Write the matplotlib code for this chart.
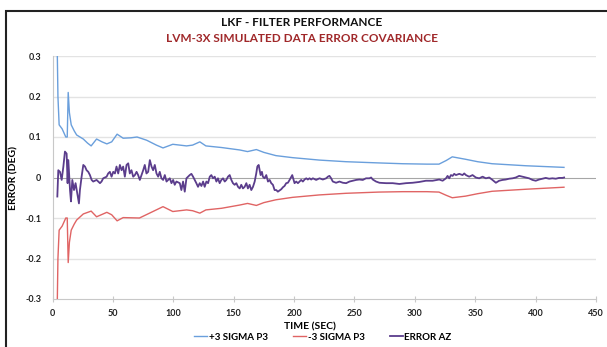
import matplotlib
matplotlib.use("Agg")
import matplotlib.pyplot as plt
from matplotlib.patches import Rectangle

plt.rcParams['font.family'] = ['Lato', 'DejaVu Sans']

# +3 sigma envelope
t_plus = [4.0, 4.5, 5.5, 8, 11, 12.2, 13, 14, 15.5, 18, 20, 25.5, 29, 32, 36.5, 41, 45, 49,
          53.5, 58.5, 65, 70, 78, 86, 91.5, 99.6, 111, 116, 122, 127, 140, 155, 161.5, 168.8,
          175, 185, 198.8, 221, 243, 270, 290, 310, 320, 326, 331, 342, 352, 364, 392, 423.5]
sigma_plus = [0.30, 0.20, 0.13, 0.12, 0.10, 0.10, 0.21, 0.16, 0.13, 0.115, 0.105, 0.095, 0.085,
              0.078, 0.095, 0.088, 0.083, 0.088, 0.107, 0.097, 0.098, 0.10, 0.092, 0.08, 0.073,
              0.082, 0.078, 0.08, 0.088, 0.078, 0.074, 0.068, 0.064, 0.069, 0.062, 0.054, 0.049,
              0.043, 0.039, 0.036, 0.034, 0.033, 0.033, 0.042, 0.051, 0.045, 0.039, 0.034, 0.029,
              0.025]

# -3 sigma envelope
t_minus = [4.0, 4.5, 5.5, 8, 11, 12.2, 13, 14, 15.5, 18, 20, 25.5, 32, 36.5, 45, 49, 53.5,
           58.5, 72, 91.5, 99.6, 111, 116, 122, 127, 140, 155, 161.5, 168.8, 175, 185, 198.8,
           221, 243, 270, 290, 310, 320, 326, 331, 342, 352, 364, 392, 423.5]
sigma_minus = [-0.30, -0.20, -0.13, -0.12, -0.10, -0.10, -0.21, -0.16, -0.13, -0.115, -0.105,
               -0.09, -0.083, -0.097, -0.086, -0.092, -0.107, -0.099, -0.10, -0.072, -0.084,
               -0.08, -0.082, -0.088, -0.08, -0.076, -0.068, -0.064, -0.069, -0.062, -0.055,
               -0.049, -0.043, -0.039, -0.036, -0.035, -0.035, -0.036, -0.044, -0.050, -0.046,
               -0.040, -0.034, -0.029, -0.024]

# azimuth error
t_err = [4.0, 4.8, 6.2, 7.6, 9.0, 10.3, 11.7, 12.5, 13.1, 14.5, 15.3, 16.4, 17.8, 19.1, 20.5,
         21.9, 22.7, 24.1, 25.5, 26.9, 28.2, 29.6, 31.0, 32.4, 33.7, 36.5, 39.3, 40.6, 42.0,
         44.8, 46.1, 47.5, 48.9, 50.3, 51.7, 53.0, 54.4, 55.8, 57.2, 58.5, 59.9, 61.3, 62.7,
         64.0, 65.4, 66.8, 68.2, 69.6, 70.9, 72.3, 73.7, 75.1, 76.4, 77.8, 79.2, 80.6, 82.0,
         83.3, 84.7, 86.1, 87.5, 88.8, 90.2, 91.6, 93.0, 94.4, 97.1, 98.5, 99.9, 101.2, 102.6,
         105.4, 106.7, 108.1, 109.5, 110.9, 112.3, 113.6, 115.0, 116.4, 117.8, 119.1, 120.5,
         121.9, 123.3, 124.7, 126.0, 127.4, 128.8, 130.2, 131.5, 132.9, 134.3, 135.7, 137.0,
         138.4, 139.8, 141.2, 142.6, 143.9, 145.3, 146.7, 148.1, 149.4, 150.8, 152.2, 153.6,
         155.0, 156.3, 157.7, 159.1, 160.5, 161.8, 163.2, 164.6, 166.0, 167.4, 168.7, 169.6,
         170.7, 171.5, 172.3, 173.4, 174.2, 175.6, 177.0, 178.4, 179.8, 181.1, 182.5, 183.9,
         185.3, 186.6, 188.0, 189.4, 190.8, 192.1, 193.5, 194.9, 196.3, 197.7, 198.5, 199.6,
         200.4, 201.8, 203.2, 204.5, 205.9, 207.3, 208.7, 210.1, 211.4, 212.8, 214.2, 215.6,
         218.3, 221.1, 223.8, 226.6, 228.0, 229.3, 230.7, 232.1, 234.8, 237.6, 240.4, 243.1,
         245.9, 248.6, 251.4, 254.1, 256.9, 259.6, 262.4, 263.8, 265.2, 267.9, 270.7, 276.2,
         281.7, 287.2, 292.7, 298.2, 303.7, 309.2, 314.7, 320.2, 323.0, 325.8, 327.1, 328.5,
         329.9, 331.3, 332.6, 334.0, 336.8, 339.5, 340.9, 342.3, 345.0, 347.8, 350.5, 353.3,
         356.1, 358.8, 361.6, 364.3, 367.1, 369.8, 372.6, 375.3, 378.1, 380.9, 383.6, 386.4,
         389.1, 391.9, 394.6, 397.4, 400.1, 402.9, 405.7, 408.4, 411.2, 413.9, 416.7, 419.4,
         422.2, 423.6]
error_az = [-0.047, 0.018, 0.014, -0.006, 0.027, 0.064, 0.059, -0.014, 0.043, -0.031, -0.059,
            -0.006, -0.031, -0.014, -0.039, -0.064, -0.031, 0.002, 0.031, 0.027, 0.018, 0.014,
            0.006, -0.006, -0.010, -0.006, -0.014, -0.010, -0.002, 0.002, 0.010, 0.014, 0.002,
            0.014, 0.010, 0.027, 0.010, 0.031, 0.018, 0.027, 0.002, 0.031, 0.035, 0.010, 0.018,
            0.002, 0.006, 0.014, 0.006, -0.006, 0.006, 0.018, 0.031, 0.010, 0.014, 0.043, 0.027,
            0.018, 0.031, 0.010, 0.002, 0.014, -0.002, -0.006, 0.006, -0.010, -0.002, -0.014,
            -0.006, -0.018, -0.010,
            -0.014, -0.031, -0.010, -0.035, -0.002, 0.002, 0.006, 0.009, 0.002, -0.006, -0.014,
            -0.023, -0.014, -0.021, -0.010, -0.023, -0.010, -0.014, 0.002, 0.006, -0.002, 0.002,
            -0.010, -0.002, -0.014, -0.006, -0.002, -0.010, -0.006, 0.002, 0.006, -0.006, -0.014,
            -0.018, -0.014, -0.023, -0.027, -0.018, -0.027, -0.023, -0.014, -0.027, -0.018,
            -0.031, -0.023, -0.010, 0.010, 0.027, 0.031, 0.018, 0.006, 0.014, 0.002, -0.002,
            0.006, -0.010, -0.006, -0.014, -0.018, -0.031, -0.031, -0.035, -0.032, -0.029,
            -0.024, -0.021, -0.014, -0.013, -0.006, 0.002, 0.006, -0.006, -0.014, -0.010,
            -0.014, -0.010, -0.006, -0.010, -0.005, -0.002, -0.005, -0.002, -0.005, -0.002,
            -0.006, -0.002, -0.005, -0.002, 0.002, 0.004, -0.002, -0.010, -0.013, -0.010,
            -0.013, -0.014, -0.010, -0.008, -0.006, -0.005, -0.006, -0.002, -0.002, 0.000,
            -0.005, -0.010, -0.013, -0.014, -0.014, -0.016, -0.014, -0.013, -0.011, -0.008,
            -0.008, -0.005, -0.008, -0.002, 0.004, -0.002, 0.006, 0.004, 0.009, 0.006, 0.009,
            0.006, 0.010, 0.006, 0.002, 0.006, 0.000, -0.002, 0.002, -0.002, 0.000, -0.006,
            -0.013, -0.008, -0.006, -0.005, -0.003, -0.002, 0.000, 0.004, 0.002, 0.000, -0.002,
            -0.006, -0.008, -0.005, -0.003, -0.001, -0.003, -0.002, -0.003, -0.001, -0.001,
            -0.000]

x_ticks = [0, 50, 100, 150, 200, 250, 300, 350, 400, 450]
y_ticks = [-0.3, -0.2, -0.1, 0, 0.1, 0.2, 0.3]
y_labels = ['-0.3', '-0.2', '-0.1', '0', '0.1', '0.2', '0.3']

fig = plt.figure(figsize=(6.07, 3.47), dpi=100)
ax = fig.add_axes([52.5 / 607, 48 / 347, 543.5 / 607, 243 / 347])

# gridlines (Excel style)
for yv in y_ticks:
    if yv == 0:
        ax.axhline(yv, color='#a6a6a6', lw=0.8, zorder=1)
    elif yv != -0.3:
        ax.axhline(yv, color='#e3e3e3', lw=1.0, zorder=0)

l1, = ax.plot(t_plus, sigma_plus, color='#6a9fdc', lw=1.0, label='+3 SIGMA P3', zorder=3)
l2, = ax.plot(t_minus, sigma_minus, color='#e06464', lw=1.0, label='-3 SIGMA P3', zorder=3)
l3, = ax.plot(t_err, error_az, color='#5b3d8c', lw=1.3, label='ERROR AZ', zorder=4)

ax.set_xlim(0, 450)
ax.set_ylim(-0.3, 0.3)
ax.set_xticks(x_ticks)
ax.set_yticks(y_ticks)
ax.set_yticklabels(y_labels)
for s in ['top', 'right']:
    ax.spines[s].set_visible(False)
for s in ['left', 'bottom']:
    ax.spines[s].set_color('#c8c8c8')
    ax.spines[s].set_linewidth(0.8)
ax.tick_params(axis='x', direction='inout', length=4, color='#c8c8c8', pad=5,
               labelsize=6.5, labelcolor='#222222')
ax.tick_params(axis='y', length=0, pad=8, labelsize=6.5, labelcolor='#222222')
for lab in ax.get_xticklabels() + ax.get_yticklabels():
    lab.set_fontweight('bold')

ax.set_xlabel('TIME (SEC)', fontsize=7.5, fontweight='bold')
ax.xaxis.set_label_coords((310 - 52.5) / 543.5, -23 / 243)
ax.set_ylabel('ERROR (DEG)', fontsize=7.5, fontweight='bold')
ax.yaxis.set_label_coords((18 - 52.5) / 543.5, 0.5)

fig.text(0.497, 1 - 22 / 347, 'LKF - FILTER PERFORMANCE', ha='center', va='center',
         fontsize=8.5, fontweight='bold', color='#111111')
fig.text(0.497, 1 - 38 / 347, 'LVM-3X SIMULATED DATA ERROR COVARIANCE', ha='center',
         va='center', fontsize=8.5, fontweight='bold', color='#a0282a')

fig.legend(handles=[l1, l2, l3], loc='center', bbox_to_anchor=(323 / 607, 1 - 337 / 347),
           ncol=3, frameon=False, handlelength=1.3, handletextpad=0.2,
           columnspacing=2.6, prop={'weight': 'bold', 'size': 7})

# outer frame (cropped at right and bottom)
fig.add_artist(Rectangle((6 / 607, -0.2), 2, 1.2 - 10.5 / 347, transform=fig.transFigure,
                         fill=False, edgecolor='#222222', lw=1.5))

fig.savefig('out.png', dpi=100)
